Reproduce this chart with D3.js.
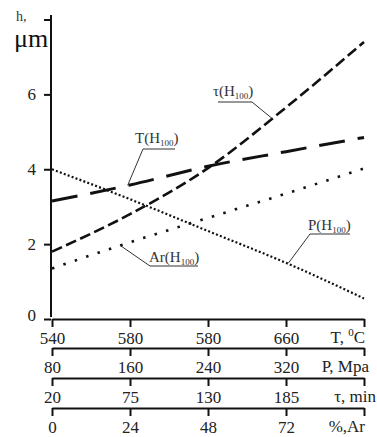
<!DOCTYPE html>
<html>
<head>
<meta charset="utf-8">
<script src="https://cdn.jsdelivr.net/npm/d3@7"></script>
<style>
  body { margin: 0; background: #fff; }
</style>
</head>
<body>
<div id="chart"></div>
<script>
// data, x = step 0..4 on the four stacked scales
const steps = [0, 1, 2, 3, 4];
const seriesTau = [1.8, 2.8, 4.03, 5.65, 7.4];   // τ(H100)
const seriesT   = [3.15, 3.58, 4.08, 4.47, 4.85]; // T(H100)
const seriesP   = [4.0, 3.2, 2.35, 1.5, 0.55];   // P(H100)
const seriesAr  = [1.35, 2.05, 2.7, 3.35, 4.02]; // Ar(H100)

const yTicks = [0, 2, 4, 6, 8];
const tempLabels  = ["540", "580", "580", "660"];
const pressLabels = ["80", "160", "240", "320"];
const timeLabels  = ["20", "75", "130", "185"];
const argonLabels = ["0", "24", "48", "72"];

const W = 377, H = 437;
const FONT = '"Liberation Serif"';
const svg = d3.select('#chart').append('svg').attr('width', W).attr('height', H);

const x = d3.scaleLinear().domain([0, 4]).range([52, 364]);
const y = d3.scaleLinear().domain([0, 8]).range([319, 19.5]);

// y axis
const yAxis = svg.append('g')
  .attr('transform', `translate(${x(0) - 1},0)`)
  .call(d3.axisLeft(y).tickValues(yTicks).tickSize(7).tickSizeOuter(0).tickPadding(8)
    .tickFormat(d => d === 8 ? '' : d));
yAxis.select('.domain').attr('d', `M0,15V317`).attr('stroke', '#111').attr('stroke-width', 2);
yAxis.selectAll('.tick line').attr('stroke', '#111').attr('stroke-width', 2);
yAxis.selectAll('.tick text').attr('font-size', 17).attr('fill', '#222');
yAxis.selectAll('.tick').filter(d => d === 0).select('text').attr('dy', '0.1em');

svg.append('text').attr('x', 16).attr('y', 21).attr('font-size', 14).attr('fill', '#333').text('h,');
svg.append('text').attr('x', 14).attr('y', 47).attr('font-size', 26).attr('fill', '#111').text('μm');

// four stacked x scales
const rows = [
  { yPos: 319, labels: tempLabels,  unit: 'T, ' },
  { yPos: 348, labels: pressLabels, unit: 'P, Mpa' },
  { yPos: 378, labels: timeLabels,  unit: 'τ, min' },
  { yPos: 408, labels: argonLabels, unit: '%,Ar' }
];
rows.forEach((r, i) => {
  const g = svg.append('g')
    .attr('transform', `translate(0,${r.yPos})`)
    .call(d3.axisBottom(x).tickValues(steps).tickSize(8).tickSizeOuter(0).tickPadding(5)
      .tickFormat(d => r.labels[d] || ''));
  g.select('.domain').attr('stroke', '#111').attr('stroke-width', 2);
  g.selectAll('.tick line').attr('stroke', '#111').attr('stroke-width', 2);
  g.selectAll('.tick text').attr('font-size', 17).attr('fill', '#222');
  const u = svg.append('text').attr('x', i === 2 ? 376 : (i === 1 ? 369 : 365)).attr('y', r.yPos + 24)
    .attr('text-anchor', 'end').attr('font-size', 17).attr('fill', '#222').text(r.unit);
  if (i === 0) {
    u.append('tspan').attr('font-size', 11).attr('dy', -7).text('0');
    u.append('tspan').attr('dy', 7).text('C');
  }
});

// curves
const line = d3.line().x((d, i) => x(steps[i])).y(d => y(d)).curve(d3.curveMonotoneX);
const curves = [
  { data: seriesTau, dash: '11,4.5', width: 2.6 },
  { data: seriesT,   dash: '26,13',  width: 3 },
  { data: seriesP,   dash: '2,2.2',  width: 2.2 },
  { data: seriesAr,  dash: '2.5,9.5', width: 2.6 }
];
svg.selectAll('.curve').data(curves).enter().append('path')
  .attr('class', 'curve')
  .attr('d', d => line(d.data))
  .attr('fill', 'none')
  .attr('stroke', '#111')
  .attr('stroke-width', d => d.width)
  .attr('stroke-dasharray', d => d.dash);

// callout labels
const notes = [
  { name: 'τ', tx: 213, ty: 96, ux0: 218, ux1: 252, uy: 102, from: 1, ax: 2.82, ay: 5.36 },
  { name: 'T', tx: 135, ty: 143, ux0: 143, ux1: 175, uy: 149, from: 0, ax: 0.97, ay: 3.57 },
  { name: 'Ar', tx: 149, ty: 262, ux0: 150, ux1: 198, uy: 266, from: 0, ax: 0.87, ay: 1.97 },
  { name: 'P', tx: 308, ty: 230, ux0: 310, ux1: 350, uy: 234, from: 0, ax: 3.03, ay: 1.49 }
];
notes.forEach(n => {
  const t = svg.append('text').attr('x', n.tx).attr('y', n.ty).attr('font-size', 15).attr('fill', '#333');
  t.append('tspan').text(n.name + '(H');
  t.append('tspan').attr('font-size', 9).attr('dy', 3).text('100');
  t.append('tspan').attr('dy', -3).text(')');
  svg.append('line').attr('x1', n.ux0).attr('x2', n.ux1).attr('y1', n.uy).attr('y2', n.uy)
    .attr('stroke', '#333').attr('stroke-width', 1);
  const sx = n.from === 1 ? n.ux1 : n.ux0;
  svg.append('line').attr('x1', sx).attr('y1', n.uy).attr('x2', x(n.ax)).attr('y2', y(n.ay))
    .attr('stroke', '#333').attr('stroke-width', 1);
});

// serif everywhere, set inline so the axis defaults do not win
svg.selectAll('text').style('font-family', FONT);
</script>
</body>
</html>
